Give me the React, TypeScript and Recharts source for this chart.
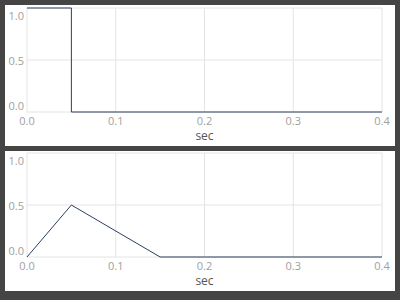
import React from 'react';
import { LineChart, Line, XAxis, YAxis, CartesianGrid } from 'recharts';

// sec values and signal values
const pulseTime = [0, 0.05, 0.05, 0.4];
const pulseValues = [1, 1, 0, 0];
const triangleTime = [0, 0.05, 0.15, 0.4];
const triangleValues = [0, 0.5, 0, 0];
const xTicks = [0, 0.1, 0.2, 0.3, 0.4];
const yTicks = [0, 0.5, 1];

const pulseData = pulseTime.map((t, i) => ({ t, v: pulseValues[i] }));
const triangleData = triangleTime.map((t, i) => ({ t, v: triangleValues[i] }));

const FONT = '"Open Sans", sans-serif';
const TICK = '#a0a0a0';
const GRID = '#e4e4e4';
const LINE = '#2a3f5f';

const YTick = (props: any) => {
  const { x, y, payload } = props;
  // end labels are kept inside the plot box
  const shift = payload.value === 1 ? 7 : payload.value === 0 ? -7 : 0;
  return (
    <text x={x} y={y + shift} textAnchor="end" dominantBaseline="central" fill={TICK} fontSize={11} fontFamily={FONT}>
      {payload.value.toFixed(1)}
    </text>
  );
};

const XTick = (props: any) => {
  const { x, y, payload } = props;
  return (
    <text x={x} y={y + 8.5} textAnchor="middle" dominantBaseline="central" fill={TICK} fontSize={11} fontFamily={FONT}>
      {payload.value.toFixed(1)}
    </text>
  );
};

const Panel = ({ data, top, height, marginTop }: { data: { t: number; v: number }[]; top: number; height: number; marginTop: number }) => (
  <div style={{ position: 'absolute', left: 5, top, width: 390, height, background: '#fff' }}>
    <LineChart width={390} height={height} data={data} margin={{ top: marginTop, right: 13, bottom: 0, left: 0 }}>
      <CartesianGrid stroke={GRID} />
      <XAxis
        dataKey="t"
        type="number"
        domain={[0, 0.4]}
        ticks={xTicks}
        height={34}
        axisLine={false}
        tickLine={false}
        tickSize={0}
        tickMargin={0}
        tick={<XTick />}
        interval={0}
        label={{ value: 'sec', position: 'insideBottom', offset: 6, fill: '#555', fontSize: 12, fontFamily: FONT }}
      />
      <YAxis
        type="number"
        domain={[0, 1]}
        ticks={yTicks}
        width={22}
        axisLine={false}
        tickLine={false}
        tickSize={0}
        tickMargin={3}
        tick={<YTick />}
        interval={0}
      />
      <Line type="linear" dataKey="v" stroke={LINE} strokeWidth={1} dot={false} isAnimationActive={false} />
    </LineChart>
  </div>
);

export default function App() {
  return (
    <div style={{ position: 'absolute', left: 0, top: 0, width: 400, height: 300, background: '#454545' }}>
      <Panel data={pulseData} top={5} height={141} marginTop={3} />
      <Panel data={triangleData} top={151} height={140} marginTop={2} />
    </div>
  );
}
